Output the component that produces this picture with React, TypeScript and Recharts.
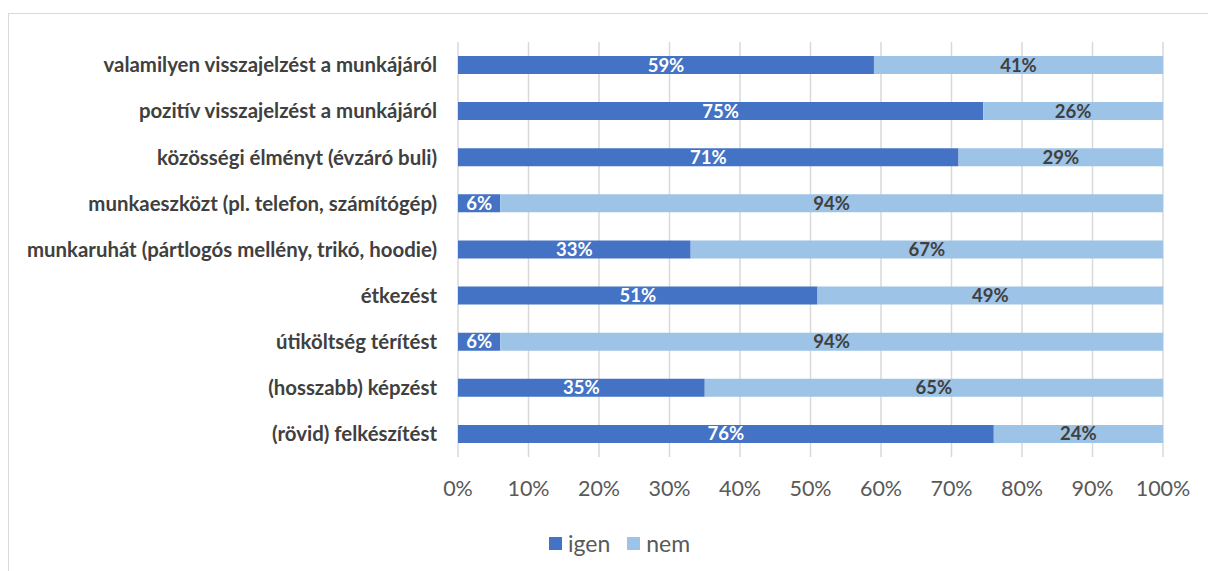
import React from 'react';
import { BarChart, Bar, XAxis, YAxis, CartesianGrid, LabelList, Legend } from 'recharts';

const categories = [
  'valamilyen visszajelzést a munkájáról',
  'pozitív visszajelzést a munkájáról',
  'közösségi élményt (évzáró buli)',
  'munkaeszközt (pl. telefon, számítógép)',
  'munkaruhát (pártlogós mellény, trikó, hoodie)',
  'étkezést',
  'útiköltség térítést',
  '(hosszabb) képzést',
  '(rövid) felkészítést',
];
const igen = [59, 74.5, 71, 6, 33, 51, 6, 35, 76];
const nem = [41, 25.5, 29, 94, 67, 49, 94, 65, 24];
const xTicks = [0, 10, 20, 30, 40, 50, 60, 70, 80, 90, 100];

const data = categories.map((name, i) => ({ name, igen: igen[i], nem: nem[i] }));

const FONT = 'Lato, "Open Sans", sans-serif';
const C_IGEN = '#4472C4';
const C_NEM = '#9DC3E6';

const renderLegend = () => (
  <div style={{ display: 'flex', alignItems: 'center', height: 30, fontFamily: FONT, fontSize: 23, color: '#595959' }}>
    <span style={{ display: 'inline-block', width: 13, height: 13, background: C_IGEN, marginRight: 6 }} />
    <span style={{ marginRight: 17 }}>igen</span>
    <span style={{ display: 'inline-block', width: 13, height: 13, background: C_NEM, marginRight: 6 }} />
    <span>nem</span>
  </div>
);

const pct = (v: number) => `${Math.round(v)}%`;

export default function App() {
  return (
    <div style={{ position: 'fixed', left: 0, top: 0, width: 1208, height: 571, overflow: 'hidden', background: '#fff' }}>
      <div style={{ position: 'absolute', left: 8, top: 13, width: 1400, height: 800, border: '1px solid #d9d9d9', background: '#fff' }}>
        <BarChart
          width={1199}
          height={557}
          data={data}
          layout="vertical"
          barSize={18}
          margin={{ top: 28, right: 45, bottom: 13, left: 0 }}
        >
          <CartesianGrid horizontal={false} stroke="#d9d9d9" strokeWidth={1.5} />
          <XAxis
            type="number"
            domain={[0, 100]}
            ticks={xTicks}
            tickFormatter={(v: number) => `${v}%`}
            axisLine={false}
            tickLine={false}
            height={71}
            tickMargin={18}
            tick={{ fill: '#595959', fontSize: 21.5, fontFamily: FONT }}
            interval={0}
          />
          <YAxis
            type="category"
            dataKey="name"
            width={449}
            axisLine={false}
            tickLine={false}
            tickMargin={15}
            interval={0}
            tick={{ fill: '#404040', fontSize: 20.4, fontWeight: 700, fontFamily: FONT }}
          />
          <Legend verticalAlign="bottom" content={renderLegend} wrapperStyle={{ left: 540, width: 300 }} />
          <Bar dataKey="igen" stackId="a" fill={C_IGEN} isAnimationActive={false}>
            <LabelList
              dataKey="igen"
              position="center"
              formatter={pct}
              fill="#ffffff"
              style={{ fontSize: 18.5, fontWeight: 700, fontFamily: FONT }}
            />
          </Bar>
          <Bar dataKey="nem" stackId="a" fill={C_NEM} isAnimationActive={false}>
            <LabelList
              dataKey="nem"
              position="center"
              formatter={pct}
              fill="#404040"
              style={{ fontSize: 18.5, fontWeight: 700, fontFamily: FONT }}
            />
          </Bar>
        </BarChart>
      </div>
    </div>
  );
}
